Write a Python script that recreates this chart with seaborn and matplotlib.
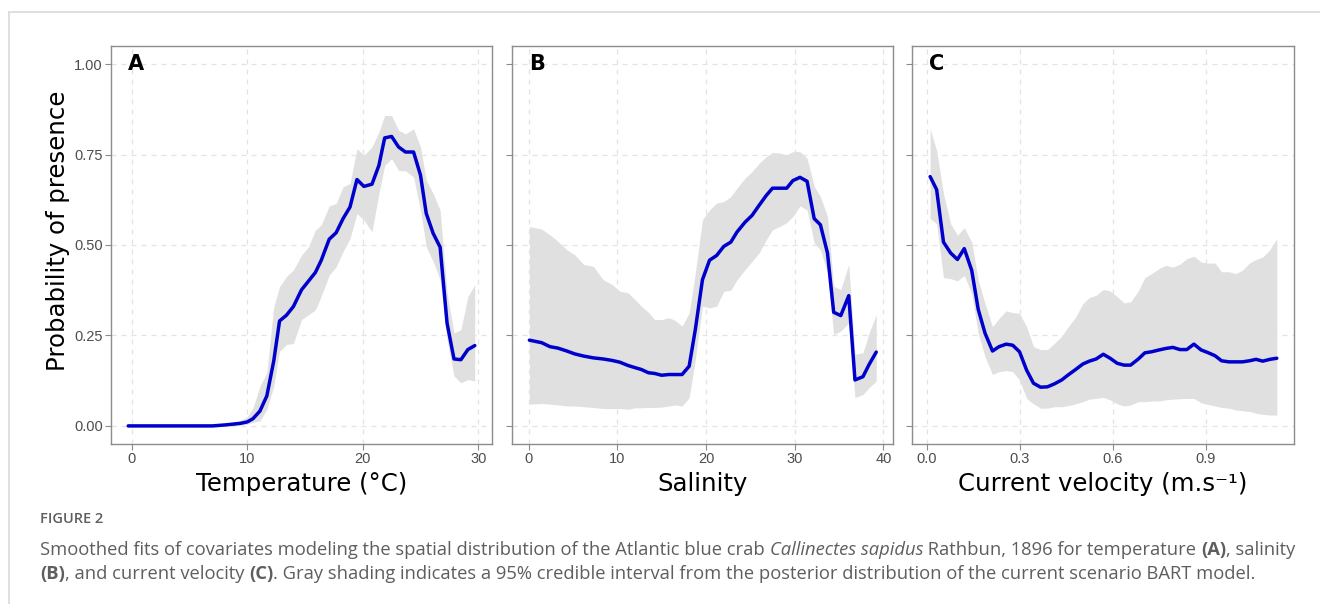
import numpy as np
import pandas as pd
import matplotlib
matplotlib.use("Agg")
import matplotlib.pyplot as plt
from matplotlib.lines import Line2D
import seaborn as sns


# Panel A: temperature
temp_x = [-0.3, 7.0, 8.2, 9.4, 10.0, 10.5, 11.1, 11.7, 12.3, 12.8, 13.4, 14.0, 14.7, 15.3,
          15.9, 16.4, 17.1, 17.7, 18.3, 18.9, 19.5, 20.1, 20.8, 21.4, 21.9, 22.5, 23.1,
          23.7, 24.4, 25.0, 25.5, 26.1, 26.7, 27.3, 27.9, 28.5, 29.1, 29.7]
temp_fit = [0.0, 0.0, 0.003, 0.007, 0.011, 0.02, 0.041, 0.083, 0.18, 0.29, 0.306, 0.33,
            0.376, 0.40, 0.424, 0.457, 0.516, 0.534, 0.573, 0.605, 0.681, 0.662, 0.668,
            0.72, 0.796, 0.80, 0.771, 0.757, 0.757, 0.693, 0.587, 0.532, 0.494, 0.284,
            0.185, 0.183, 0.211, 0.222]
temp_hi = [0.0, 0.002, 0.008, 0.015, 0.025, 0.05, 0.11, 0.147, 0.33, 0.385, 0.413, 0.431,
           0.472, 0.495, 0.541, 0.555, 0.608, 0.615, 0.661, 0.67, 0.766, 0.748, 0.771,
           0.812, 0.858, 0.858, 0.817, 0.807, 0.821, 0.771, 0.679, 0.642, 0.596, 0.367,
           0.257, 0.266, 0.358, 0.39]
temp_lo = [0.0, 0.0, 0.0, 0.002, 0.005, 0.01, 0.014, 0.046, 0.11, 0.206, 0.225, 0.228,
           0.294, 0.307, 0.321, 0.358, 0.417, 0.44, 0.482, 0.518, 0.587, 0.569, 0.537,
           0.642, 0.72, 0.739, 0.706, 0.705, 0.688, 0.596, 0.495, 0.454, 0.404, 0.239,
           0.138, 0.119, 0.128, 0.124]

# Panel B: salinity
sal_x = [0.08, 1.47, 2.4, 3.3, 4.3, 5.2, 6.2, 7.3, 8.4, 9.4, 10.3, 11.2, 12.0, 12.7, 13.5,
         14.2, 15.0, 15.8, 16.5, 17.3, 18.1, 18.8, 19.6, 20.4, 21.2, 22.0, 22.8, 23.5,
         24.4, 25.2, 26.0, 26.8, 27.5, 28.3, 29.1, 29.8, 30.6, 31.4, 32.2, 32.9, 33.7,
         34.4, 35.2, 36.1, 36.8, 37.7, 38.4, 39.2]
sal_fit = [0.237, 0.230, 0.219, 0.215, 0.207, 0.199, 0.193, 0.188, 0.185, 0.181, 0.176,
           0.167, 0.161, 0.156, 0.147, 0.145, 0.140, 0.142, 0.142, 0.142, 0.165, 0.267,
           0.404, 0.458, 0.471, 0.496, 0.508, 0.536, 0.563, 0.582, 0.610, 0.637, 0.657,
           0.657, 0.657, 0.678, 0.687, 0.676, 0.573, 0.556, 0.478, 0.314, 0.305, 0.360,
           0.127, 0.136, 0.170, 0.204]
sal_hi = [0.551, 0.544, 0.528, 0.510, 0.487, 0.473, 0.446, 0.441, 0.404, 0.391, 0.372,
          0.368, 0.349, 0.331, 0.314, 0.294, 0.294, 0.299, 0.292, 0.276, 0.312, 0.423,
          0.570, 0.597, 0.616, 0.620, 0.634, 0.657, 0.685, 0.703, 0.726, 0.744, 0.756,
          0.754, 0.749, 0.758, 0.758, 0.740, 0.662, 0.634, 0.579, 0.386, 0.377, 0.446,
          0.198, 0.202, 0.257, 0.308]
sal_lo = [0.060, 0.062, 0.060, 0.058, 0.055, 0.055, 0.053, 0.051, 0.048, 0.048, 0.048,
          0.046, 0.050, 0.050, 0.051, 0.051, 0.052, 0.055, 0.058, 0.055, 0.078, 0.184,
          0.331, 0.326, 0.331, 0.372, 0.375, 0.404, 0.432, 0.455, 0.478, 0.515, 0.542,
          0.551, 0.562, 0.579, 0.608, 0.597, 0.506, 0.487, 0.423, 0.253, 0.262, 0.285,
          0.078, 0.087, 0.106, 0.124]

# Panel C: current velocity
vel_x = [0.011, 0.032, 0.054, 0.077, 0.099, 0.121, 0.145, 0.166, 0.188, 0.212, 0.233,
         0.256, 0.277, 0.299, 0.322, 0.344, 0.367, 0.389, 0.411, 0.435, 0.456, 0.480,
         0.503, 0.524, 0.546, 0.569, 0.591, 0.614, 0.636, 0.657, 0.682, 0.703, 0.725,
         0.749, 0.770, 0.793, 0.816, 0.838, 0.861, 0.884, 0.905, 0.929, 0.950, 0.974,
         0.996, 1.017, 1.040, 1.061, 1.083, 1.106, 1.128]
vel_fit = [0.689, 0.653, 0.508, 0.478, 0.460, 0.490, 0.430, 0.322, 0.256, 0.207, 0.219,
           0.226, 0.223, 0.205, 0.154, 0.118, 0.107, 0.108, 0.116, 0.127, 0.141, 0.156,
           0.171, 0.179, 0.185, 0.198, 0.187, 0.173, 0.168, 0.168, 0.185, 0.202, 0.205,
           0.210, 0.214, 0.217, 0.211, 0.211, 0.226, 0.210, 0.203, 0.194, 0.180, 0.177,
           0.177, 0.177, 0.180, 0.184, 0.179, 0.184, 0.187]
vel_hi = [0.821, 0.761, 0.642, 0.559, 0.527, 0.548, 0.508, 0.403, 0.338, 0.274, 0.297,
          0.318, 0.313, 0.311, 0.274, 0.219, 0.211, 0.211, 0.228, 0.248, 0.274, 0.301,
          0.338, 0.355, 0.361, 0.377, 0.373, 0.357, 0.340, 0.343, 0.373, 0.410, 0.421,
          0.435, 0.444, 0.439, 0.447, 0.462, 0.469, 0.453, 0.450, 0.450, 0.426, 0.426,
          0.421, 0.430, 0.450, 0.460, 0.467, 0.487, 0.517]
vel_lo = [0.573, 0.559, 0.410, 0.407, 0.401, 0.416, 0.366, 0.256, 0.191, 0.142, 0.150,
          0.153, 0.150, 0.127, 0.076, 0.061, 0.049, 0.049, 0.053, 0.053, 0.056, 0.061,
          0.067, 0.074, 0.076, 0.079, 0.072, 0.061, 0.055, 0.058, 0.067, 0.067, 0.069,
          0.069, 0.072, 0.074, 0.075, 0.076, 0.076, 0.064, 0.060, 0.055, 0.051, 0.049,
          0.044, 0.042, 0.040, 0.035, 0.032, 0.030, 0.030]

y_ticks = [0.0, 0.25, 0.5, 0.75, 1.0]
y_ticklabels = ["0.00", "0.25", "0.50", "0.75", "1.00"]


# Style
sns.set_style("white")
plt.rcParams["font.family"] = ["DejaVu Sans"]

LINE = "#0000CD"
BAND = "#E0E0E0"
GRID = "#E3E3E3"
BORDER = "#8C8C8C"
TICKTXT = "#4D4D4D"
CAPTION = "#5E5E5E"
TICK_FONT = ["Liberation Sans", "DejaVu Sans"]

fig = plt.figure(figsize=(13.2, 6.04), dpi=100)
W, H = 1320, 604


def px_axes(left, top, right, bottom):
    return fig.add_axes([left / W, 1 - bottom / H, (right - left) / W, (bottom - top) / H])


panels = [
    dict(x=temp_x, fit=temp_fit, lo=temp_lo, hi=temp_hi, box=(111, 46, 492, 444),
         xlim=(-1.79, 31.19), xticks=[0, 10, 20, 30], xtl=["0", "10", "20", "30"],
         xlabel="Temperature (°C)", tag="A"),
    dict(x=sal_x, fit=sal_fit, lo=sal_lo, hi=sal_hi, box=(512, 46, 893, 444),
         xlim=(-1.88, 41.09), xticks=[0, 10, 20, 30, 40], xtl=["0", "10", "20", "30", "40"],
         xlabel="Salinity", tag="B"),
    dict(x=vel_x, fit=vel_fit, lo=vel_lo, hi=vel_hi, box=(912, 46, 1294, 444),
         xlim=(-0.0474, 1.1835), xticks=[0.0, 0.3, 0.6, 0.9], xtl=["0.0", "0.3", "0.6", "0.9"],
         xlabel="Current velocity (m.s⁻¹)", tag="C"),
]

for i, p in enumerate(panels):
    ax = px_axes(*p["box"])
    left, top, right, bottom = p["box"]
    df = pd.DataFrame({"x": p["x"], "fit": p["fit"], "lo": p["lo"], "hi": p["hi"]})

    ax.fill_between(df["x"], df["lo"], df["hi"], color=BAND, lw=0, zorder=1)
    sns.lineplot(data=df, x="x", y="fit", ax=ax, color=LINE, lw=2.5, zorder=3)

    ax.set_xlim(*p["xlim"])
    ax.set_ylim(-0.05, 1.05)
    ax.set_xticks(p["xticks"])
    ax.set_xticklabels(p["xtl"], family=TICK_FONT)
    ax.set_yticks(y_ticks)
    if i == 0:
        ax.set_yticklabels(y_ticklabels, family=TICK_FONT)
        ax.set_ylabel("Probability of presence", fontsize=17.6, color="black", va="center")
        ax.yaxis.set_label_coords((58 - left) / (right - left), (444 - 231) / 398)
    else:
        ax.set_yticklabels([])
        ax.set_ylabel("")
    ax.set_xlabel(p["xlabel"], fontsize=17.6, color="black", va="center")
    ax.xaxis.set_label_coords(0.5, (444 - 484) / 398)

    ax.grid(True, color=GRID, ls=(0, (4, 4)), lw=0.9, zorder=0)
    ax.set_axisbelow(True)
    for s in ax.spines.values():
        s.set_color(BORDER)
        s.set_linewidth(1.0)
    ax.tick_params(axis="both", length=4, width=0.8, color=BORDER,
                   labelsize=10.5, labelcolor=TICKTXT, pad=2, left=True, bottom=True)

    ax.text(0.045, 0.955, p["tag"], transform=ax.transAxes, fontsize=15,
            fontweight="heavy", ha="left", va="center", color="black")

# Page frame
fig.add_artist(Line2D([9 / W, 9 / W], [0, 1 - 12 / H], transform=fig.transFigure,
                      color="#D9D9D9", lw=1.2))
fig.add_artist(Line2D([9 / W, 1], [1 - 12 / H, 1 - 12 / H], transform=fig.transFigure,
                      color="#D9D9D9", lw=1.2))

# Caption
CAP_FONT = ["Open Sans", "DejaVu Sans"]
fig.text(40 / W, 1 - 519 / H, "FIGURE 2", fontsize=10.5, color=CAPTION,
         family=CAP_FONT, fontweight="semibold", va="center", ha="left")

renderer = fig.canvas.get_renderer()


def rich_line(y, segments, size=13.2):
    x = 40
    for text, style in segments:
        kw = dict(fontsize=size, color=CAPTION, family=CAP_FONT, va="center", ha="left")
        if style == "b":
            kw["fontweight"] = "bold"
        elif style == "i":
            kw["fontstyle"] = "italic"
        t = fig.text(x / W, 1 - y / H, text, **kw)
        x += t.get_window_extent(renderer).width


rich_line(550, [
    ("Smoothed fits of covariates modeling the spatial distribution of the Atlantic blue crab ", "n"),
    ("Callinectes sapidus", "i"),
    (" Rathbun, 1896 for temperature ", "n"),
    ("(A)", "b"),
    (", salinity", "n"),
])
rich_line(574, [
    ("(B)", "b"),
    (", and current velocity ", "n"),
    ("(C)", "b"),
    (". Gray shading indicates a 95% credible interval from the posterior distribution of the current scenario BART model.", "n"),
])

fig.savefig("out.png", dpi=100)
